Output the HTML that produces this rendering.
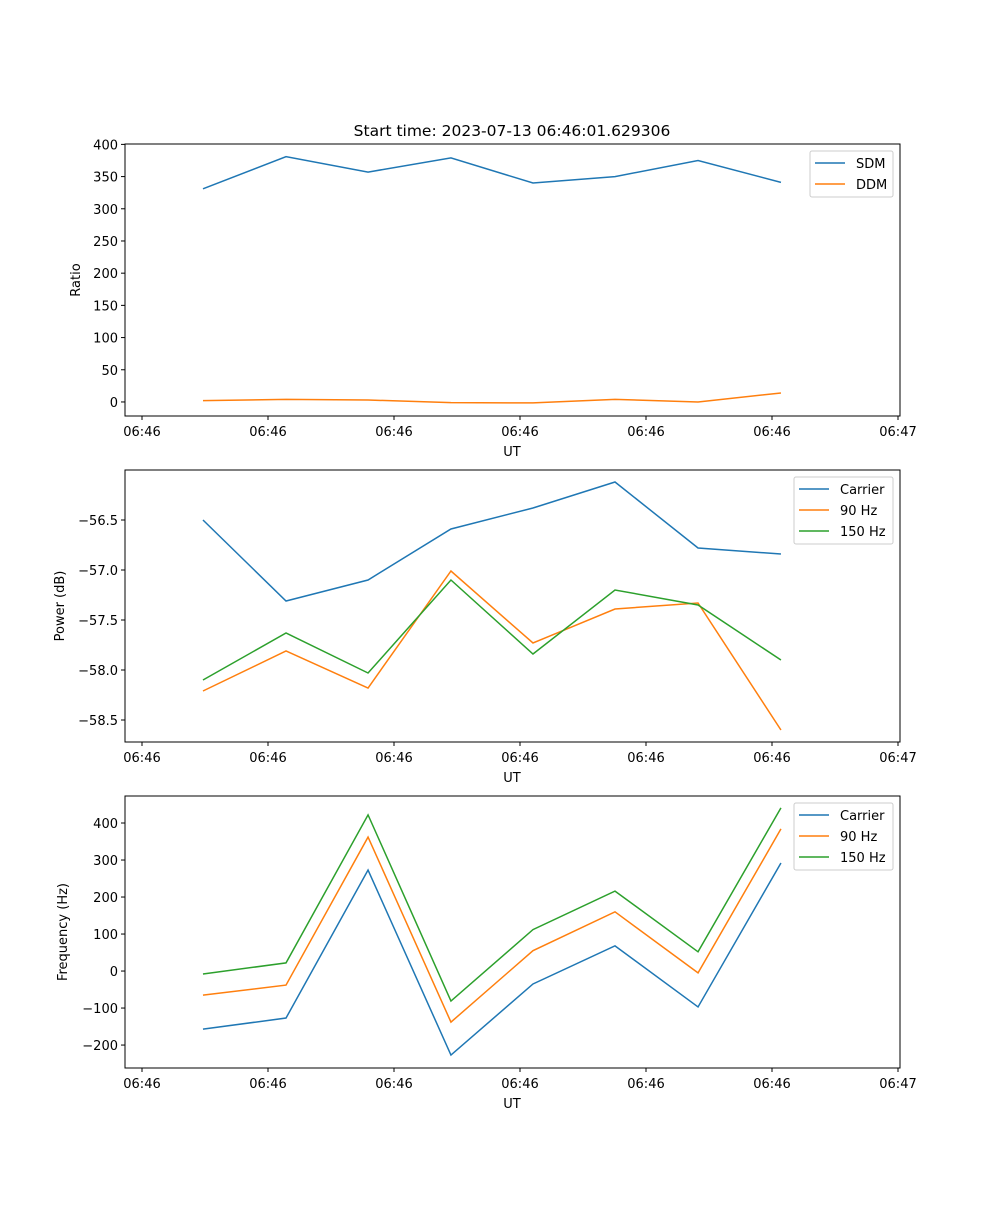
<!DOCTYPE html>
<html><head><meta charset="utf-8"><style>
body{margin:0;background:#fff}
svg text{font-family:"DejaVu Sans","Liberation Sans",sans-serif;font-size:13px;fill:#000}
</style></head><body>
<svg id="fig" width="1000" height="1200" xmlns="http://www.w3.org/2000/svg">
<rect width="1000" height="1200" fill="#fff"/>
<text x="512" y="136" text-anchor="middle" style="font-size:15.5px">Start time: 2023-07-13 06:46:01.629306</text>
</svg>
<script>
const times=[0.484,1.143,1.794,2.452,3.103,3.754,4.413,5.071];
const xTickLabels=["06:46","06:46","06:46","06:46","06:46","06:46","06:47"];
const sdm=[331,381,357,379,340,350,375,341];
const ddm=[2,4,3,-1,-1.5,4,0,14];
const pCarrier=[-56.50,-57.31,-57.10,-56.59,-56.38,-56.12,-56.78,-56.84];
const p90=[-58.21,-57.81,-58.18,-57.01,-57.73,-57.39,-57.33,-58.60];
const p150=[-58.10,-57.63,-58.03,-57.10,-57.84,-57.20,-57.35,-57.90];
const fCarrier=[-157,-127,273,-227,-35,68,-97,292];
const f90=[-65,-38,362,-138,55,160,-5,384];
const f150=[-8,22,422,-81,112,216,52,441];
const ticks1=[0,50,100,150,200,250,300,350,400];
const ticks2=[-56.5,-57.0,-57.5,-58.0,-58.5];
const ticks3=[-200,-100,0,100,200,300,400];
const C=["#1f77b4","#ff7f0e","#2ca02c"];
const svg=document.getElementById('fig');
const NS="http://www.w3.org/2000/svg";
function mk(t,a){const e=document.createElementNS(NS,t);for(const k in a)e.setAttribute(k,a[k]);svg.appendChild(e);return e;}
const L=125,R=900;
function xs(v){return 142+126*v;}
function panel(idx,top,ymin,ymax,yticks,fmt,ylabel,ylx,series,names,legW){
  const bot=top+272;
  const ys=v=>bot-(v-ymin)/(ymax-ymin)*272;
  const p=idx+1;
  for(let i=0;i<xTickLabels.length;i++){
    const x=xs(i);
    const t=mk('line',{x1:x,x2:x,y1:bot,y2:bot+4,stroke:'#000','stroke-width':1});
    
    const l=mk('text',{x:x,y:bot+20,'text-anchor':'middle'});l.textContent=xTickLabels[i];
    
  }
  yticks.forEach(v=>{
    const y=ys(v);
    const t=mk('line',{x1:L-4,x2:L,y1:y,y2:y,stroke:'#000','stroke-width':1});
    
    const l=mk('text',{x:L-7,y:y+5,'text-anchor':'end'});l.textContent=fmt(v);
    
  });
  const xl=mk('text',{x:512,y:bot+40,'text-anchor':'middle'});xl.textContent='UT';
  
  const yl=mk('text',{x:ylx,y:top+136,'text-anchor':'middle',transform:`rotate(-90 ${ylx} ${top+136})`});yl.textContent=ylabel;
  
  series.forEach((s,i)=>{
    const pl=mk('polyline',{points:s.map((v,j)=>xs(times[j])+','+ys(v)).join(' '),fill:'none',stroke:C[i],'stroke-width':1.5});
    
    
  });
  const fr=mk('rect',{x:L,y:top,width:R-L,height:272,fill:'none',stroke:'#000','stroke-width':1});
  
  const lx=893-legW, ly=top+7, h=names.length*21+4;
  const lg=mk('rect',{x:lx,y:ly,width:legW,height:h,rx:2,fill:'#fff','fill-opacity':0.8,stroke:'#ccc'});
  
  names.forEach((n,i)=>{
    const y=ly+12+i*21;
    const ln=mk('line',{x1:lx+5,x2:lx+35,y1:y,y2:y,stroke:C[i],'stroke-width':1.5});
    
    const t=mk('text',{x:lx+46,y:y+5});t.textContent=n;
    
  });
}
panel(0,144,-21.8,400.6,ticks1,v=>String(v),'Ratio',80,[sdm,ddm],['SDM','DDM'],83);
panel(1,470,-58.72,-56.0,ticks2,v=>'\u2212'+Math.abs(v).toFixed(1),'Power (dB)',64,[pCarrier,p90,p150],['Carrier','90 Hz','150 Hz'],99);
panel(2,796,-262,473,ticks3,v=>v<0?'\u2212'+Math.abs(v):String(v),'Frequency (Hz)',67,[fCarrier,f90,f150],['Carrier','90 Hz','150 Hz'],99);
</script>
</body></html>
